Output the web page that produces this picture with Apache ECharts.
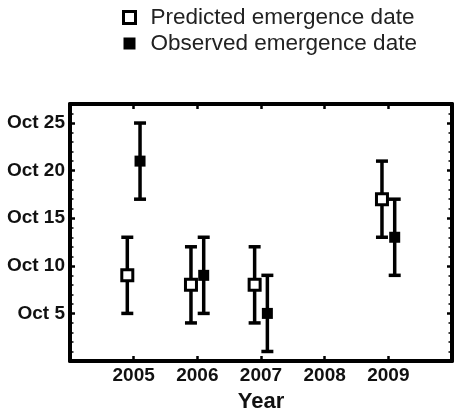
<!DOCTYPE html>
<html>
<head>
<meta charset="utf-8">
<script src="https://cdn.jsdelivr.net/npm/echarts@6/dist/echarts.min.js"></script>
<style>
html,body{margin:0;padding:0;background:#fff;}
#chart{width:454px;height:413px;}
</style>
</head>
<body>
<div id="chart"></div>
<script>
// Data (day of October)
const years = [2005, 2006, 2007, 2009];
const predicted = [9, 8, 8, 17];
const predictedLow = [5, 4, 4, 13];
const predictedHigh = [13, 12, 12, 21];
const observed = [21, 9, 5, 13];
const observedLow = [17, 5, 1, 9];
const observedHigh = [25, 13, 9, 17];
const xTickLabels = ['2005', '2006', '2007', '2008', '2009'];
const yTickLabels = ['Oct 5', 'Oct 10', 'Oct 15', 'Oct 20', 'Oct 25'];
const seriesNames = ['Predicted emergence date', 'Observed emergence date'];

const OFFSET = 0.1;
const FONT = 'Liberation Sans, Arial, sans-serif';

function errData(lo, hi, off) {
  return years.map((y, i) => [y + off, lo[i], hi[i]]);
}
function errRender(params, api) {
  const x = api.value(0);
  const top = api.coord([x, api.value(2)]);
  const bot = api.coord([x, api.value(1)]);
  const hw = 6;
  const st = { stroke: '#000', lineWidth: 3.5 };
  return {
    type: 'group',
    children: [
      { type: 'line', shape: { x1: top[0], y1: top[1], x2: bot[0], y2: bot[1] }, style: st },
      { type: 'line', shape: { x1: top[0] - hw, y1: top[1], x2: top[0] + hw, y2: top[1] }, style: st },
      { type: 'line', shape: { x1: bot[0] - hw, y1: bot[1], x2: bot[0] + hw, y2: bot[1] }, style: st }
    ]
  };
}

const xLabel = v => (xTickLabels.indexOf(String(v)) >= 0 ? String(v) : '');
const yLabel = v => {
  const s = 'Oct ' + v;
  return yTickLabels.indexOf(s) >= 0 ? s : '';
};

const chart = echarts.init(document.getElementById('chart'), null, { renderer: 'canvas' });
const baseX = {
  type: 'value', min: 2004, max: 2010, interval: 1,
  splitLine: { show: false },
  axisLine: { show: true, onZero: false, lineStyle: { color: '#000', width: 4 } },
  axisTick: { show: true, inside: true, length: 5, lineStyle: { color: '#000', width: 2.5 } }
};
const baseY = {
  type: 'value', min: 0, max: 27, interval: 5,
  splitLine: { show: false },
  axisLine: { show: true, onZero: false, lineStyle: { color: '#000', width: 4 } },
  axisTick: { show: true, inside: true, length: 5, lineStyle: { color: '#000', width: 2.5 } },
  minorTick: { show: true, splitNumber: 5, length: 3.5, lineStyle: { color: '#000', width: 1.5 } }
};

chart.setOption({
  animation: false,
  backgroundColor: '#fff',
  textStyle: { fontFamily: FONT },
  legend: {
    orient: 'vertical',
    left: 117,
    top: 1,
    itemWidth: 12,
    itemHeight: 12,
    itemGap: 3,
    textStyle: { fontFamily: FONT, fontSize: 22.5, color: '#222', padding: [0, 0, 0, 10] },
    data: [
      { name: seriesNames[0], icon: 'rect', itemStyle: { color: '#fff', borderColor: '#000', borderWidth: 3 } },
      { name: seriesNames[1], icon: 'rect', itemStyle: { color: '#000', borderWidth: 0 } }
    ]
  },
  grid: { left: 70, right: 2, top: 104, bottom: 52, containLabel: false, outerBoundsMode: 'none' },
  xAxis: [
    Object.assign({}, baseX, {
      position: 'bottom',
      name: 'Year', nameLocation: 'middle', nameGap: 30,
      nameTextStyle: { fontFamily: FONT, fontSize: 22, fontWeight: 'bold', color: '#111' },
      axisLabel: { formatter: xLabel, fontFamily: FONT, fontSize: 19, fontWeight: 'bold', color: '#111', margin: 5 }
    }),
    Object.assign({}, baseX, { position: 'top', axisLabel: { show: false } })
  ],
  yAxis: [
    Object.assign({}, baseY, {
      position: 'left',
      axisLabel: { formatter: yLabel, fontFamily: FONT, fontSize: 19, fontWeight: 'bold', color: '#111', margin: 5 }
    }),
    Object.assign({}, baseY, { position: 'right', axisLabel: { show: false } })
  ],
  series: [
    { name: 'predErr', type: 'custom', renderItem: errRender, data: errData(predictedLow, predictedHigh, -OFFSET), z: 2, silent: true },
    { name: 'obsErr', type: 'custom', renderItem: errRender, data: errData(observedLow, observedHigh, OFFSET), z: 2, silent: true },
    {
      name: seriesNames[0], type: 'scatter', symbol: 'rect', symbolSize: 11, z: 5,
      itemStyle: { color: '#fff', borderColor: '#000', borderWidth: 3, opacity: 1 },
      data: years.map((y, i) => [y - OFFSET, predicted[i]])
    },
    {
      name: seriesNames[1], type: 'scatter', symbol: 'rect', symbolSize: 11, z: 5,
      itemStyle: { color: '#000', opacity: 1 },
      data: years.map((y, i) => [y + OFFSET, observed[i]])
    }
  ]
});
</script>
</body>
</html>
